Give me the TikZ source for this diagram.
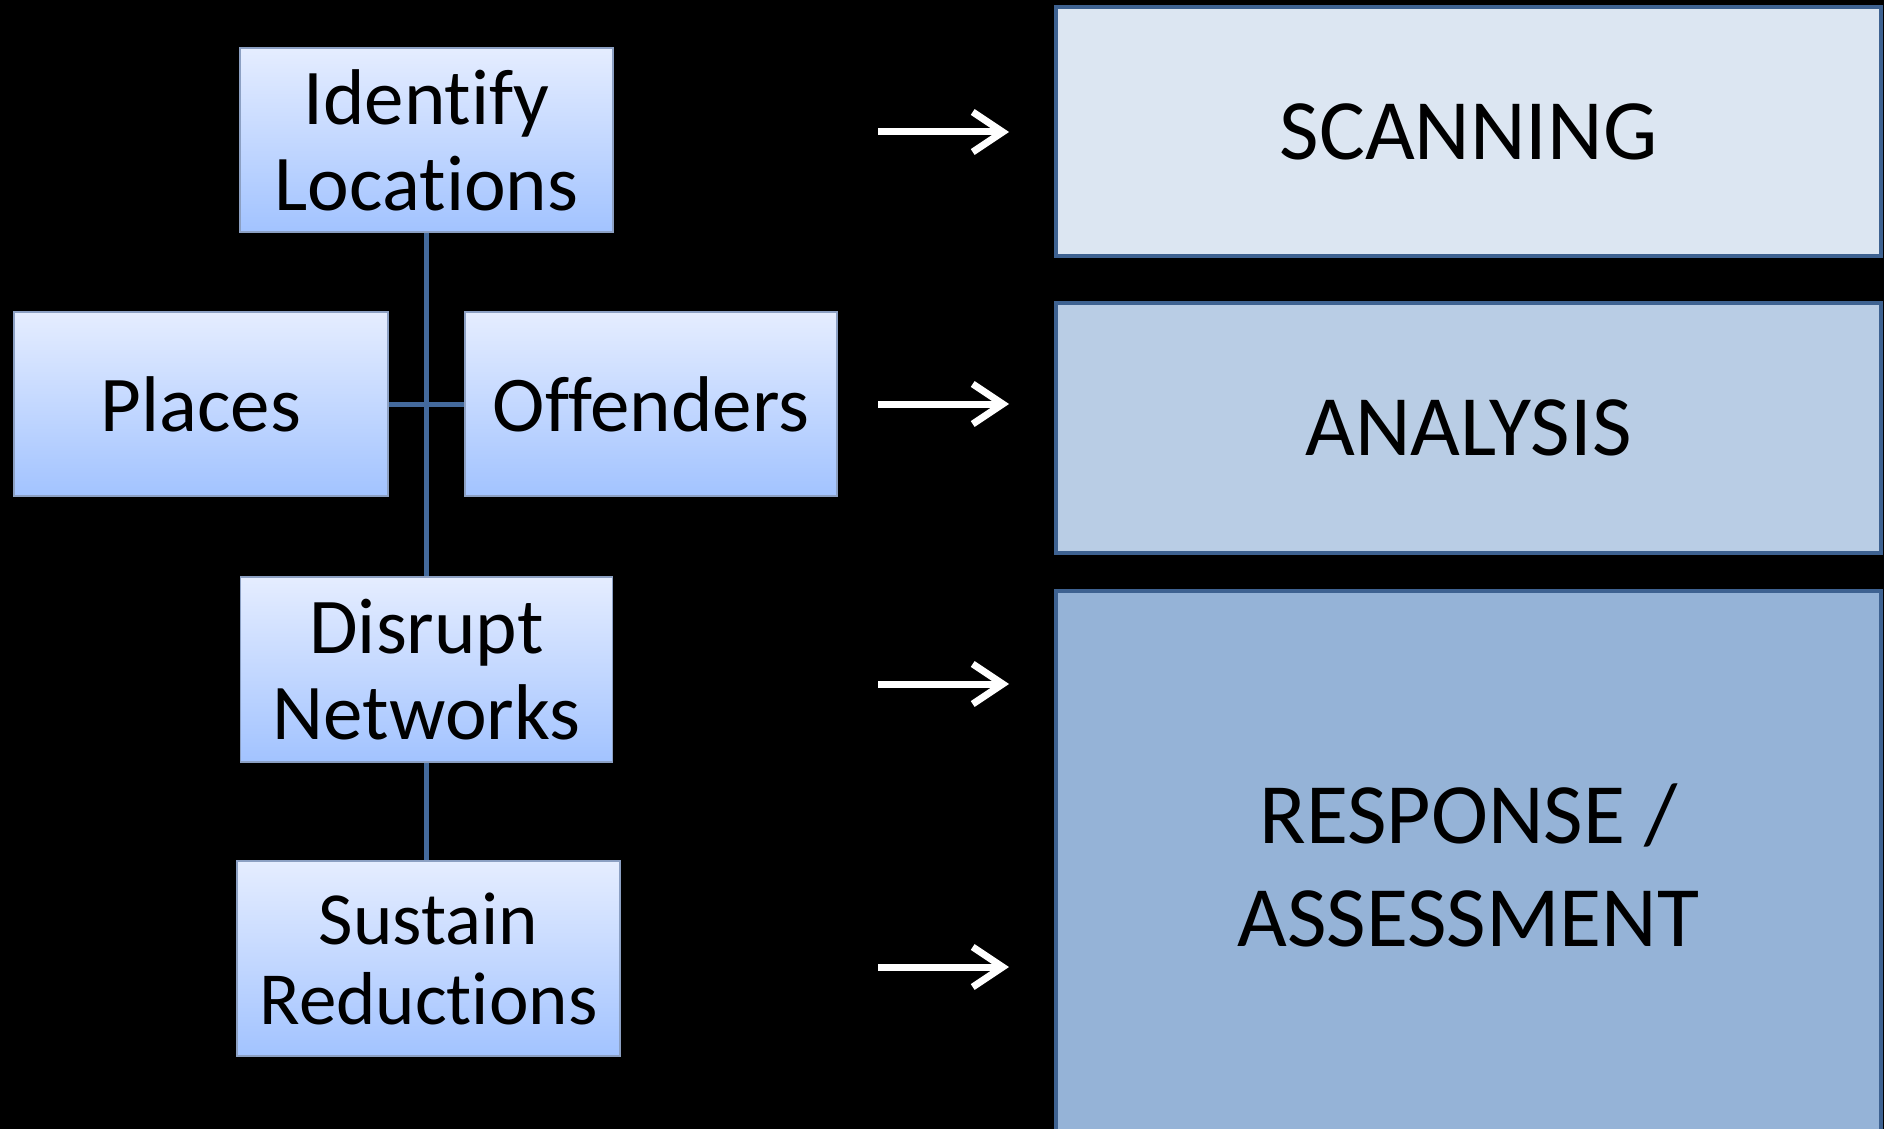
\documentclass[tikz,border=0pt]{standalone}
\usepackage{fontspec}
\setmainfont{Carlito}[Ligatures={NoCommon}]
\usetikzlibrary{arrows.meta}
\definecolor{bordblue}{RGB}{62,98,145}
\definecolor{linkblue}{RGB}{68,106,156}
\definecolor{gradtop}{RGB}{229,237,255}
\definecolor{gradbot}{RGB}{162,195,255}
\definecolor{leftbord}{RGB}{140,160,195}
\definecolor{scanfill}{RGB}{220,230,242}
\definecolor{anafill}{RGB}{185,205,229}
\definecolor{respfill}{RGB}{149,179,215}
\tikzset{
  gradbox/.style={rectangle, draw=leftbord, line width=1.5pt, top color=gradtop, bottom color=gradbot, inner sep=0pt, align=center, text=black, font=\fontsize{79}{86}\selectfont},
  phasebox/.style={rectangle, draw=bordblue, line width=4pt, inner sep=0pt, align=center, text=black, font=\fontsize{86}{103}\selectfont},
  link/.style={draw=linkblue, line width=5pt},
  whitearrow/.style={draw=white, line width=7pt, -{Straight Barb[length=30pt,width=40pt]}}
}
\begin{document}
\begin{tikzpicture}[x=1pt,y=-1pt]
\fill[black] (0,0) rectangle (1884,1129);
\useasboundingbox (0,0) rectangle (1884,1129);
% left boxes
\node[gradbox, minimum width=373pt, minimum height=184pt] (ident) at (426.5,140) {Identify\\Locations};
\node[gradbox, minimum width=374pt, minimum height=184pt] (places) at (201,404) {Places};
\node[gradbox, minimum width=372pt, minimum height=184pt] (offend) at (651,404) {Offenders};
\node[gradbox, minimum width=372pt, minimum height=185pt] (disrupt) at (426.5,669.5) {Disrupt\\Networks};
\node[gradbox, minimum width=383pt, minimum height=195pt, font=\fontsize{75}{80}\selectfont] (sustain) at (428.5,958.5) {Sustain\\Reductions};
% connectors
\draw[link] (ident.south) -- (disrupt.north);
\draw[link] (places.east) -- (offend.west);
\draw[link] (disrupt.south) -- (disrupt.south |- sustain.north);
% right boxes
\node[phasebox, fill=scanfill, minimum width=825pt, minimum height=249pt] (scan) at (1468.5,131.5) {SCANNING};
\node[phasebox, fill=anafill, minimum width=825pt, minimum height=250pt] (ana) at (1468.5,428) {ANALYSIS};
\node[phasebox, fill=respfill, minimum width=825pt, minimum height=548pt] (resp) at (1468.5,865) {RESPONSE /\\ASSESSMENT};
% arrows
\coordinate (a1s) at (878,132); \coordinate (a1e) at (1009,132);
\coordinate (a2s) at (878,404); \coordinate (a2e) at (1009,404);
\coordinate (a3s) at (878,684); \coordinate (a3e) at (1009,684);
\coordinate (a4s) at (878,967); \coordinate (a4e) at (1009,967);
\draw[whitearrow] (a1s) -- (a1e);
\draw[whitearrow] (a2s) -- (a2e);
\draw[whitearrow] (a3s) -- (a3e);
\draw[whitearrow] (a4s) -- (a4e);
\end{tikzpicture}
\end{document}
